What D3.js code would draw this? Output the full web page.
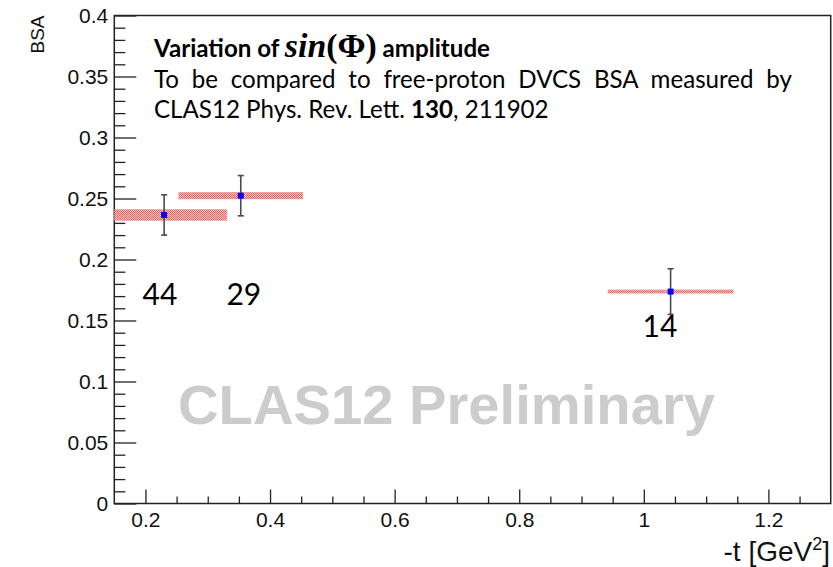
<!DOCTYPE html>
<html>
<head>
<meta charset="utf-8">
<script src="https://cdn.jsdelivr.net/npm/d3@7/dist/d3.min.js"></script>
<style>
  html, body { margin: 0; padding: 0; background: #fff; }
  svg { display: block; }
</style>
</head>
<body>
<svg id="chart" width="833" height="567"></svg>
<script>
// Beam-spin asymmetry sin(phi) amplitude vs -t
const tVals        = [0.230, 0.353, 1.043];
const bsaVals      = [0.2365, 0.2523, 0.1737];
const statErr      = [0.0165, 0.0165, 0.0187];
const binHalfWidth = [0.101, 0.100, 0.101];
const sysErr       = [0.0047, 0.0029, 0.0016];

// event counts written under each bin
const eventCounts   = ["44", "29", "14"];
const countLabelT   = [0.2233, 0.358, 1.026];
const countLabelBSA = [0.1627, 0.1627, 0.1365];

const xMajorTicks = [0.2, 0.4, 0.6, 0.8, 1.0, 1.2];
const yMajorTicks = [0, 0.05, 0.1, 0.15, 0.2, 0.25, 0.3, 0.35, 0.4];
const xDomain = [0.15, 1.3];
const yDomain = [0, 0.4];

const frame = { left: 114.3, right: 830.7, top: 15.5, bottom: 503.5 };

const svg = d3.select("#chart");
const x = d3.scaleLinear().domain(xDomain).range([frame.left, frame.right]);
const y = d3.scaleLinear().domain(yDomain).range([frame.bottom, frame.top]);

const defs = svg.append("defs");
defs.append("clipPath").attr("id", "plotClip")
  .append("rect")
  .attr("x", frame.left).attr("y", frame.top)
  .attr("width", frame.right - frame.left).attr("height", frame.bottom - frame.top);

// dotted red hatch for systematic bands
const pat = defs.append("pattern").attr("id", "sysHatch")
  .attr("patternUnits", "userSpaceOnUse").attr("width", 2).attr("height", 2);
pat.append("rect").attr("width", 2).attr("height", 2).attr("fill", "#ffc8c8");
pat.append("rect").attr("x", 0).attr("y", 0).attr("width", 1).attr("height", 1).attr("fill", "#ff5e5e");
pat.append("rect").attr("x", 1).attr("y", 1).attr("width", 1).attr("height", 1).attr("fill", "#ff5e5e");

const axisFont = "'Liberation Sans', Arial, sans-serif";

// minor ticks
const xMinor = d3.range(0.2, 1.2501, 0.05).filter(v => xMajorTicks.every(m => Math.abs(m - v) > 1e-6));
const yMinor = d3.range(0.01, 0.4, 0.01).filter(v => yMajorTicks.every(m => Math.abs(m - v) > 1e-6));

svg.append("g").attr("transform", `translate(0,${frame.bottom})`)
  .call(d3.axisBottom(x).tickValues(xMinor).tickSize(-7).tickFormat(""))
  .call(g => g.select(".domain").remove())
  .selectAll("line").attr("stroke", "#222").attr("stroke-width", 1.3);

svg.append("g").attr("transform", `translate(${frame.left},0)`)
  .call(d3.axisLeft(y).tickValues(yMinor).tickSize(-11).tickFormat(""))
  .call(g => g.select(".domain").remove())
  .selectAll("line").attr("stroke", "#222").attr("stroke-width", 1.3);

// major ticks with labels
const xAxis = svg.append("g").attr("transform", `translate(0,${frame.bottom})`)
  .call(d3.axisBottom(x).tickValues(xMajorTicks).tickSize(-14).tickPadding(8.5)
    .tickFormat(d => d3.format("")(+d.toFixed(2))));
xAxis.select(".domain").remove();
xAxis.selectAll("line").attr("stroke", "#222").attr("stroke-width", 1.3);
xAxis.selectAll("text").attr("font-family", axisFont).attr("font-size", 21).attr("fill", "#111");

const yAxis = svg.append("g").attr("transform", `translate(${frame.left},0)`)
  .call(d3.axisLeft(y).tickValues(yMajorTicks).tickSize(-22).tickPadding(6)
    .tickFormat(d => d3.format("")(+d.toFixed(2))));
yAxis.select(".domain").remove();
yAxis.selectAll("line").attr("stroke", "#222").attr("stroke-width", 1.3);
yAxis.selectAll("text").attr("font-family", axisFont).attr("font-size", 21).attr("fill", "#111");

// frame
svg.append("rect")
  .attr("x", frame.left).attr("y", frame.top)
  .attr("width", frame.right - frame.left).attr("height", frame.bottom - frame.top)
  .attr("fill", "none").attr("stroke", "#222").attr("stroke-width", 1.5);

// axis titles
svg.append("text")
  .attr("transform", `translate(44,${frame.top}) rotate(-90)`)
  .attr("text-anchor", "end")
  .attr("font-family", axisFont).attr("font-size", 19).attr("fill", "#111")
  .text("BSA");

const xt = svg.append("text")
  .attr("x", 830).attr("y", 561).attr("text-anchor", "end")
  .attr("font-family", axisFont).attr("font-size", 28).attr("fill", "#111");
xt.append("tspan").text("-t [GeV");
xt.append("tspan").attr("font-size", 18).attr("dy", -11).text("2");
xt.append("tspan").attr("dy", 11).text("]");

// watermark
svg.append("text")
  .attr("x", 178).attr("y", 424)
  .attr("font-family", axisFont).attr("font-weight", "bold").attr("font-size", 56)
  .attr("fill", "#cccccc").attr("textLength", 537).attr("lengthAdjust", "spacingAndGlyphs")
  .text("CLAS12 Preliminary");

const points = tVals.map((t, i) => ({
  t, bsa: bsaVals[i], stat: statErr[i], hw: binHalfWidth[i], sys: sysErr[i]
}));

// systematic bands
svg.append("g").attr("clip-path", "url(#plotClip)")
  .selectAll("rect").data(points).join("rect")
  .attr("x", d => x(d.t - d.hw))
  .attr("width", d => x(d.t + d.hw) - x(d.t - d.hw))
  .attr("y", d => y(d.bsa + d.sys))
  .attr("height", d => y(d.bsa - d.sys) - y(d.bsa + d.sys))
  .attr("fill", "url(#sysHatch)");

// statistical error bars
const eb = svg.append("g").attr("stroke", "#4a4a4a").attr("stroke-width", 1.6);
eb.selectAll("line.v").data(points).join("line").attr("class", "v")
  .attr("x1", d => x(d.t)).attr("x2", d => x(d.t))
  .attr("y1", d => y(d.bsa + d.stat)).attr("y2", d => y(d.bsa - d.stat));
eb.selectAll("line.top").data(points).join("line").attr("class", "top")
  .attr("x1", d => x(d.t) - 3).attr("x2", d => x(d.t) + 3)
  .attr("y1", d => y(d.bsa + d.stat)).attr("y2", d => y(d.bsa + d.stat));
eb.selectAll("line.bot").data(points).join("line").attr("class", "bot")
  .attr("x1", d => x(d.t) - 3).attr("x2", d => x(d.t) + 3)
  .attr("y1", d => y(d.bsa - d.stat)).attr("y2", d => y(d.bsa - d.stat));

// markers
svg.append("g").selectAll("rect").data(points).join("rect")
  .attr("x", d => x(d.t) - 3).attr("y", d => y(d.bsa) - 3)
  .attr("width", 6).attr("height", 6).attr("fill", "#0000ff");

// event counts
svg.append("g").selectAll("text").data(eventCounts).join("text")
  .attr("x", (d, i) => x(countLabelT[i])).attr("y", (d, i) => y(countLabelBSA[i]))
  .attr("text-anchor", "middle")
  .attr("font-family", "Lato, 'Open Sans', sans-serif").attr("font-size", 30).attr("fill", "#000")
  .text(d => d);

// annotation box
const noteFont = "Lato, 'Open Sans', sans-serif";
const mathFont = "'Liberation Serif', 'DejaVu Serif', serif";
const noteX = 154;

// size the reference line to its measured width first, then reuse that size
const l3 = svg.append("text").attr("x", noteX).attr("y", 118)
  .attr("font-family", noteFont).attr("font-size", 24).attr("fill", "#000");
l3.append("tspan").text("CLAS12 Phys. Rev. Lett. ");
l3.append("tspan").attr("font-weight", "bold").text("130");
l3.append("tspan").text(", 211902");
const noteSize = 24 * 395 / l3.node().getComputedTextLength();
l3.attr("font-size", noteSize);

const l1 = svg.append("text").attr("x", noteX).attr("y", 57)
  .attr("font-family", noteFont).attr("font-size", noteSize).attr("font-weight", "bold").attr("fill", "#000");
l1.append("tspan").text("Variation of ");
const mathSpans = [
  l1.append("tspan").attr("font-family", mathFont).attr("font-style", "italic").text("sin"),
  l1.append("tspan").attr("font-family", mathFont).text("(Φ)")
];
l1.append("tspan").text(" amplitude");
{
  // grow the math part so the whole title line spans its target width
  const target = 490 - noteX;
  const widthAt = s => { mathSpans.forEach(t => t.attr("font-size", s)); return l1.node().getComputedTextLength(); };
  const a = noteSize, b = noteSize * 1.5;
  const wa = widthAt(a), wb = widthAt(b);
  const s = a + (target - wa) * (b - a) / (wb - wa);
  widthAt(Math.max(noteSize, Math.min(s, noteSize * 1.5)));
}

const l2 = svg.append("text").attr("x", noteX).attr("y", 88)
  .attr("font-family", noteFont).attr("font-size", noteSize).attr("fill", "#000")
  .text("To be compared to free-proton DVCS BSA measured by");
{
  const natural = l2.node().getComputedTextLength();
  const spaces = 8;
  const target = 792 - noteX;
  l2.attr("word-spacing", (target - natural) / spaces);
}
</script>
</body>
</html>
